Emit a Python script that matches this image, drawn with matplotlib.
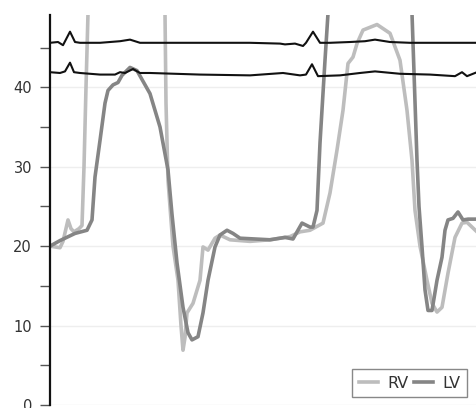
import matplotlib
matplotlib.use("Agg")
import matplotlib.pyplot as plt

# time axis in ms, pressures in mmHg
rv_t = [0, 20, 26, 36, 42, 48, 58, 64, 68, 72, 76, 80, 152, 226, 230, 232, 236, 246,
        256, 262, 266, 270, 274, 286, 300, 306, 316, 330, 340, 360, 400, 440, 480, 500,
        520, 546, 560, 574, 586, 596, 606, 614, 626, 654, 680, 700, 714, 724, 730, 740,
        754, 764, 774, 784, 796, 810, 824, 834, 854]
rv_v = [20.0, 19.8, 20.6, 23.3, 22.2, 21.8, 22.2, 22.6, 30.0, 40.0, 49.3, 56.0, 63.0,
        56.0, 49.3, 38.0, 28.3, 20.0, 15.7, 10.0, 6.9, 8.5, 11.6, 12.8, 15.7, 19.9, 19.5,
        21.0, 21.4, 20.8, 20.6, 20.8, 21.2, 21.8, 22.0, 22.9, 26.7, 32.1, 37.1, 43.0, 43.8,
        45.5, 47.2, 47.9, 46.8, 43.4, 37.1, 30.8, 24.5, 20.0, 15.7, 12.8, 11.7, 12.3, 16.6,
        21.1, 22.9, 23.0, 21.8]

lv_t = [0, 20, 50, 74, 84, 90, 100, 110, 116, 126, 136, 144, 160, 174, 200, 220, 236,
        244, 254, 266, 276, 284, 296, 306, 316, 330, 340, 354, 366, 380, 410, 440, 470,
        486, 504, 520, 526, 534, 540, 550, 556, 560, 640, 720, 724, 734, 738, 744, 750,
        756, 764, 774, 784, 790, 796, 806, 816, 826, 836, 854]
lv_v = [20.0, 20.7, 21.6, 22.0, 23.3, 28.7, 33.3, 38.0, 39.6, 40.3, 40.6, 41.5, 42.5,
        42.1, 39.2, 35.0, 29.6, 24.0, 17.9, 12.3, 9.1, 8.2, 8.6, 11.6, 15.7, 19.9, 21.4,
        22.0, 21.6, 21.0, 20.9, 20.8, 21.1, 20.9, 22.9, 22.4, 22.4, 24.5, 33.0, 43.4, 49.3,
        56.0, 63.0, 56.0, 49.3, 30.8, 25.0, 19.9, 14.5, 11.9, 11.9, 15.7, 18.6, 22.0, 23.3,
        23.5, 24.3, 23.3, 23.4, 23.4]

# ecg / reference traces at the top
ecg1_t = [0, 16, 26, 40, 50, 60, 100, 140, 160, 180, 260, 400, 460, 470, 490, 506,
          512, 526, 540, 560, 600, 630, 650, 680, 720, 854]
ecg1_v = [45.6, 45.7, 45.3, 47.0, 45.7, 45.6, 45.6, 45.8, 46.0, 45.6, 45.6, 45.6, 45.5,
          45.4, 45.5, 45.2, 45.6, 47.0, 45.6, 45.6, 45.7, 45.8, 46.0, 45.7, 45.6, 45.6]

ecg2_t = [0, 20, 30, 40, 48, 60, 100, 130, 140, 150, 166, 180, 200, 300, 400, 466,
          500, 512, 524, 536, 580, 620, 650, 700, 760, 810, 824, 834, 854]
ecg2_v = [41.9, 41.8, 42.0, 43.1, 41.9, 41.8, 41.6, 41.6, 41.9, 41.8, 42.3, 41.8, 41.8,
          41.6, 41.5, 41.8, 41.5, 41.6, 42.9, 41.4, 41.5, 41.8, 42.0, 41.7, 41.6, 41.4,
          41.9, 41.4, 41.9]

yticks = [0, 10, 20, 30, 40]
yminor = [5, 15, 25, 35, 45]

fig = plt.figure(figsize=(4.77, 4.08), dpi=100)
ax = fig.add_axes([50 / 477, 3 / 408, 427 / 477, 390 / 408])

ax.plot(rv_t, rv_v, color="#bdbdbd", lw=2.6, label="RV")
ax.plot(lv_t, lv_v, color="#858585", lw=2.6, label="LV")
ax.plot(ecg1_t, ecg1_v, color="#111111", lw=1.5)
ax.plot(ecg2_t, ecg2_v, color="#111111", lw=1.5)

ax.set_xlim(0, 854)
ax.set_ylim(0, 49.1)
ax.set_yticks(yticks)
ax.set_yticks(yminor, minor=True)
ax.set_xticks([])
ax.grid(axis="y", color="#eeeeee", lw=1)
ax.set_axisbelow(True)

for s in ["top", "right", "bottom"]:
    ax.spines[s].set_visible(False)
ax.spines["left"].set_linewidth(1.6)
ax.spines["left"].set_color("#111111")
ax.tick_params(axis="y", which="both", length=7, width=1, color="#555555",
               labelsize=10.5, labelcolor="#333333", pad=6)

leg = ax.legend(loc="lower right", bbox_to_anchor=(0.995, 0.0), ncol=2,
                fontsize=11.5, handlelength=1.2, handletextpad=0.6,
                columnspacing=0.3, fancybox=False, framealpha=1,
                borderpad=0.4, labelcolor="#333333")
leg.get_frame().set_edgecolor("#888888")
leg.get_frame().set_linewidth(1)

fig.savefig("out.png", dpi=100)
